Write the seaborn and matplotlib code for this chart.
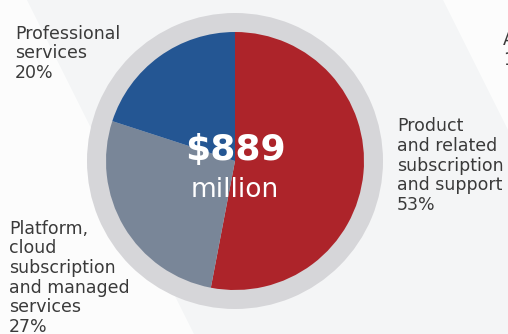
import matplotlib
matplotlib.use("Agg")
import matplotlib.pyplot as plt
from matplotlib.patches import Polygon
import seaborn as sns

# Revenue mix
categories = [
    "Product\nand related\nsubscription\nand support",
    "Platform,\ncloud\nsubscription\nand managed\nservices",
    "Professional\nservices",
]
shares = [53, 27, 20]
total_label = "$889"
total_unit = "million"
slice_colors = ["#ad242a", "#798698", "#245693"]

sns.set_theme(style="white")
plt.rcParams["font.family"] = ["DejaVu Sans"]

W, H = 508, 334
fig = plt.figure(figsize=(W / 100, H / 100), dpi=100)
fig.patch.set_facecolor("#fcfcfc")

# background with a soft diagonal band
bg = fig.add_axes([0, 0, 1, 1])
bg.set_xlim(0, W)
bg.set_ylim(H, 0)
bg.axis("off")
bg.add_patch(Polygon([(27, 0), (443, 0), (610, H), (194, H)],
                     closed=True, facecolor="#f4f5f6", edgecolor="none"))

# pie with a grey ring around it
ring_r = 148
cx, cy = 235, 161
ax = fig.add_axes([(cx - ring_r) / W, (H - cy - ring_r) / H,
                   2 * ring_r / W, 2 * ring_r / H])
ax.pie([1], radius=1.0, colors=["#d6d6d9"], wedgeprops=dict(linewidth=0))
ax.pie(shares, radius=129 / ring_r, startangle=90, counterclock=False,
       colors=sns.color_palette(slice_colors),
       wedgeprops=dict(linewidth=0))
ax.set_xlim(-1, 1)
ax.set_ylim(-1, 1)
ax.set_aspect("equal")
ax.axis("off")

ax.text(0, 0.005, total_label, ha="center", va="baseline", color="white",
        fontsize=26, fontweight="bold")
ax.text(0, -0.243, total_unit, ha="center", va="baseline", color="white",
        fontsize=19)

# category labels (anchored at the baseline of their last line)
text_kw = dict(fontsize=12.5, color="#3a3a3a", ha="left", va="baseline",
               linespacing=1.12)
label_pos = [(397, 210), (9, 332), (15, 78)]
for cat, share, (lx, ly) in zip(categories, shares, label_pos):
    fig.text(lx / W, 1 - ly / H, f"{cat}\n{share}%", **text_kw)

# next column, running off the right edge
fig.text(503 / W, 1 - 65 / H, "A\n1", **text_kw)

fig.savefig("out.png", dpi=100, facecolor=fig.get_facecolor())
